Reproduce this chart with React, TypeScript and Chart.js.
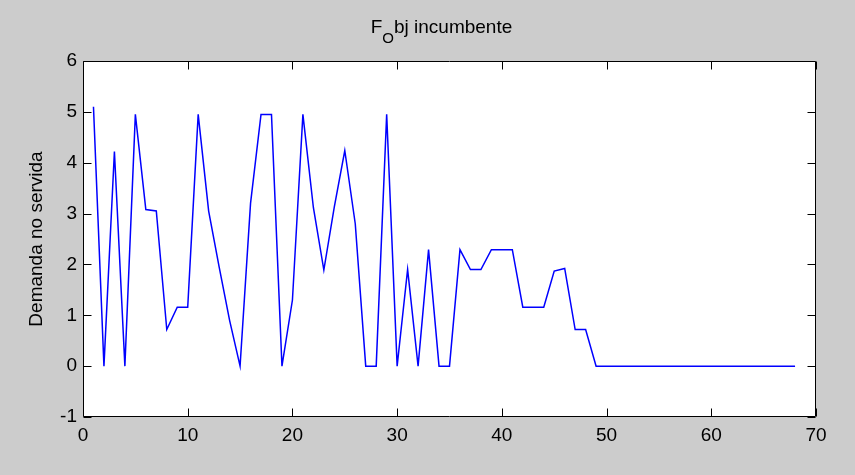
import React, { useEffect, useRef } from "react";
import { Chart, registerables } from "chart.js";

Chart.register(...registerables);

const xValues: number[] = [
  1, 2, 3, 4, 5, 6, 7, 8, 9, 10,
  11, 12, 13, 14, 15, 16, 17, 18, 19, 20,
  21, 22, 23, 24, 25, 26, 27, 28, 29, 30,
  31, 32, 33, 34, 35, 36, 37, 38, 39, 40,
  41, 42, 43, 44, 45, 46, 47, 48, 49, 50,
  51, 52, 53, 54, 55, 56, 57, 58, 59, 60,
  61, 62, 63, 64, 65, 66, 67, 68,
];

const demandaNoServida: number[] = [
  5.1, 0, 4.22, 0, 4.95, 3.08, 3.05, 0.72, 1.16, 1.16,
  4.95, 3.05, 1.95, 0.9, 0, 3.2, 4.95, 4.95, 0, 1.3,
  4.95, 3.12, 1.89, 3.13, 4.24, 2.8, 0, 0, 4.95, 0,
  1.9, 0, 2.29, 0, 0, 2.29, 1.9, 1.9, 2.29, 2.29,
  2.29, 1.16, 1.16, 1.16, 1.87, 1.92, 0.72, 0.72, 0, 0,
  0, 0, 0, 0, 0, 0, 0, 0, 0, 0,
  0, 0, 0, 0, 0, 0, 0, 0,
];

const xTicks: number[] = [0, 10, 20, 30, 40, 50, 60, 70];
const yTicks: number[] = [-1, 0, 1, 2, 3, 4, 5, 6];

const titleMain = "F";
const titleSub = "O";
const titleRest = "bj incumbente";
const yAxisLabel = "Demanda no servida";

const FONT = '"Liberation Sans", Arial, sans-serif';

const matlabPlugin = {
  id: "matlabStyle",
  beforeDraw(chart: any) {
    const { ctx, chartArea } = chart;
    ctx.save();
    ctx.fillStyle = "#cccccc";
    ctx.fillRect(0, 0, chart.width, chart.height);
    ctx.fillStyle = "#ffffff";
    ctx.fillRect(
      chartArea.left,
      chartArea.top,
      chartArea.right - chartArea.left,
      chartArea.bottom - chartArea.top
    );
    ctx.restore();
  },
  afterDraw(chart: any) {
    const { ctx, chartArea } = chart;
    const xs = chart.scales.x;
    const ys = chart.scales.y;
    const L = Math.round(chartArea.left) + 0.5;
    const R = Math.round(chartArea.right) - 0.5;
    const T = Math.round(chartArea.top) + 0.5;
    const B = Math.round(chartArea.bottom) - 0.5;
    const tl = 8;
    ctx.save();
    ctx.strokeStyle = "#000000";
    ctx.lineWidth = 1;
    ctx.beginPath();
    ctx.rect(L, T, R - L, B - T);
    xTicks.forEach((v) => {
      const px = Math.round(xs.getPixelForValue(v)) + 0.5;
      ctx.moveTo(px, B);
      ctx.lineTo(px, B - tl);
      ctx.moveTo(px, T);
      ctx.lineTo(px, T + tl);
    });
    yTicks.forEach((v) => {
      const py = Math.round(ys.getPixelForValue(v)) + 0.5;
      ctx.moveTo(L, py);
      ctx.lineTo(L + tl, py);
      ctx.moveTo(R, py);
      ctx.lineTo(R - tl, py);
    });
    ctx.stroke();

    // Title with subscript
    ctx.fillStyle = "#000000";
    ctx.textBaseline = "alphabetic";
    ctx.textAlign = "left";
    const mainFont = `19px ${FONT}`;
    const subFont = `15px ${FONT}`;
    ctx.font = mainFont;
    const wF = ctx.measureText(titleMain).width;
    const wRest = ctx.measureText(titleRest).width;
    ctx.font = subFont;
    const wSub = ctx.measureText(titleSub).width;
    const total = wF + wSub + wRest;
    let x0 = (chartArea.left + chartArea.right) / 2 - total / 2 - 8;
    ctx.font = mainFont;
    ctx.fillText(titleMain, x0, 33);
    x0 += wF;
    ctx.font = subFont;
    ctx.fillText(titleSub, x0, 43);
    x0 += wSub;
    ctx.font = mainFont;
    ctx.fillText(titleRest, x0, 33);

    // Y axis label
    ctx.save();
    ctx.translate(41.5, (chartArea.top + chartArea.bottom) / 2);
    ctx.rotate(-Math.PI / 2);
    ctx.textAlign = "center";
    ctx.textBaseline = "alphabetic";
    ctx.font = `19px ${FONT}`;
    ctx.fillText(yAxisLabel, 0, 0);
    ctx.restore();

    ctx.restore();
  },
};

export default function App() {
  const canvasRef = useRef<HTMLCanvasElement | null>(null);

  useEffect(() => {
    const canvas = canvasRef.current;
    if (!canvas) return;
    const chart = new Chart(canvas, {
      type: "line",
      data: {
        datasets: [
          {
            label: yAxisLabel,
            data: xValues.map((x, i) => ({ x, y: demandaNoServida[i] })),
            borderColor: "#0000ff",
            borderWidth: 1.5,
            pointRadius: 0,
            tension: 0,
            fill: false,
          },
        ],
      },
      options: {
        animation: false,
        responsive: false,
        devicePixelRatio: 1,
        layout: { padding: { top: 61, right: 39, left: 0, bottom: 0 } },
        plugins: {
          legend: { display: false },
          title: { display: false },
          tooltip: { enabled: false },
        },
        scales: {
          x: {
            type: "linear",
            min: 0,
            max: 70,
            afterBuildTicks: (scale: any) => {
              scale.ticks = xTicks.map((v) => ({ value: v }));
            },
            afterFit: (scale: any) => {
              scale.height = 58;
            },
            ticks: {
              color: "#000000",
              font: { family: FONT, size: 19 },
              padding: 7,
              maxRotation: 0,
              autoSkip: false,
            },
            grid: { display: false, drawTicks: false },
            border: { display: false },
          },
          y: {
            type: "linear",
            min: -1,
            max: 6,
            afterBuildTicks: (scale: any) => {
              scale.ticks = yTicks.map((v) => ({ value: v }));
            },
            afterFit: (scale: any) => {
              scale.width = 83;
            },
            ticks: {
              color: "#000000",
              font: { family: FONT, size: 19 },
              padding: 6,
              autoSkip: false,
            },
            grid: { display: false, drawTicks: false },
            border: { display: false },
          },
        },
      },
      plugins: [matlabPlugin],
    });
    return () => chart.destroy();
  }, []);

  return (
    <div
      style={{
        position: "fixed",
        left: 0,
        top: 0,
        width: 855,
        height: 475,
        background: "#cccccc",
      }}
    >
      <canvas
        ref={canvasRef}
        width={855}
        height={475}
        style={{ display: "block", width: 855, height: 475 }}
      />
    </div>
  );
}
